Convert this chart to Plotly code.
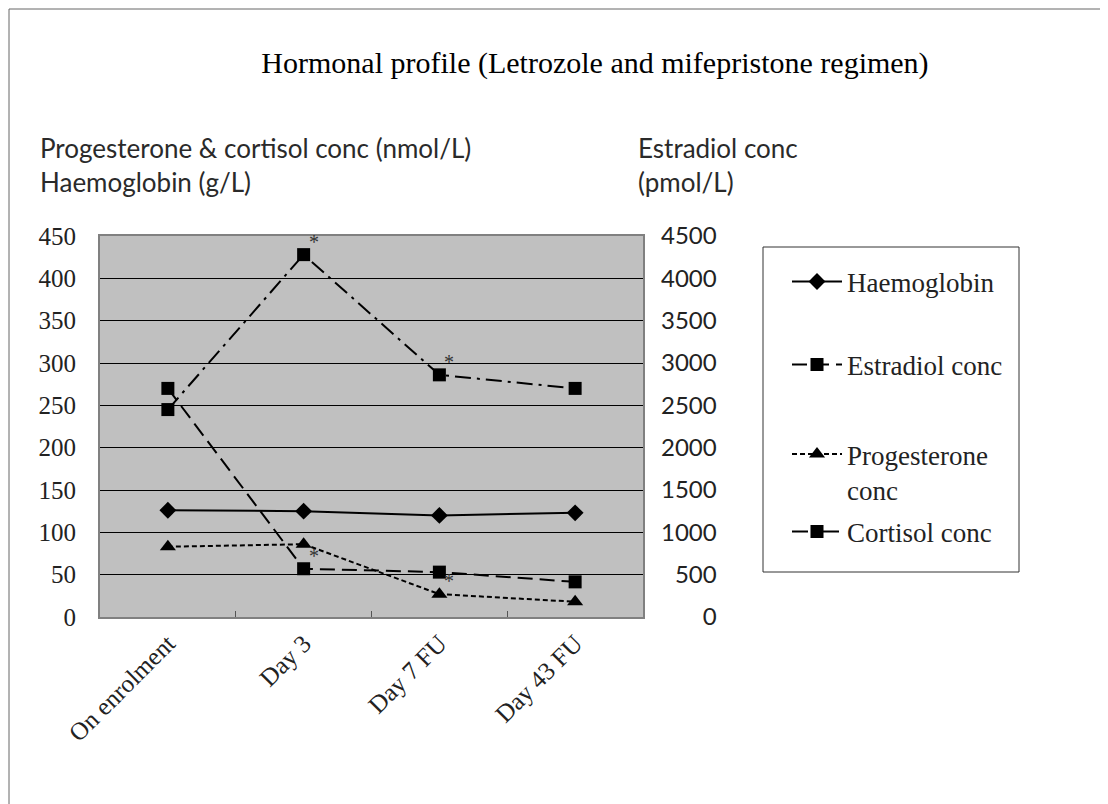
import plotly.graph_objects as go

# ---------------- data ----------------
categories = ["On enrolment", "Day 3", "Day 7 FU", "Day 43 FU"]
haemoglobin = [126, 125, 120, 123]          # g/L  (left axis)
estradiol = [2700, 570, 530, 415]           # pmol/L (right axis)
progesterone = [83, 86, 27, 18]             # nmol/L (left axis)
cortisol = [245, 428, 286, 270]             # nmol/L (left axis)
left_ticks = list(range(0, 451, 50))
right_ticks = list(range(0, 4501, 500))
# points flagged with an asterisk: (series, index)
asterisks = [("cortisol", 1), ("estradiol", 1), ("cortisol", 2), ("progesterone", 2)]

# ---------------- layout helpers ----------------
W, H = 1108, 804
OFF = 8  # page body margin
L, R, T, B = 100 - OFF, 643 - OFF, 236 - OFF, 617 - OFF


def px_x(px):
    return (px - OFF - L) / (R - L)


def px_y(py):
    return (B - (py - OFF)) / (B - T)


SERIF = "Liberation Serif"
SANS = "Lato"

fig = go.Figure()

fig.add_trace(go.Scatter(
    x=categories, y=haemoglobin, name="Haemoglobin", mode="lines+markers",
    line=dict(color="black", width=2),
    marker=dict(symbol="diamond", size=13, color="black"),
    legend="legend"))

fig.add_trace(go.Scatter(
    x=categories, y=estradiol, name="Estradiol conc", mode="lines+markers",
    yaxis="y2",
    line=dict(color="black", width=2, dash="15px,7px"),
    marker=dict(symbol="square", size=13, color="black"),
    legend="legend2"))

fig.add_trace(go.Scatter(
    x=categories, y=progesterone, name="Progesterone<br>conc", mode="lines+markers",
    line=dict(color="black", width=2, dash="5px,3px"),
    marker=dict(symbol="triangle-up", size=14, color="black"),
    legend="legend3"))

fig.add_trace(go.Scatter(
    x=categories, y=cortisol, name="Cortisol conc", mode="lines+markers",
    line=dict(color="black", width=2, dash="16px,6px,3px,6px"),
    marker=dict(symbol="square", size=13, color="black"),
    legend="legend4"))

series = {"haemoglobin": (haemoglobin, "y"), "estradiol": (estradiol, "y2"),
          "progesterone": (progesterone, "y"), "cortisol": (cortisol, "y")}
annotations = []
for name, i in asterisks:
    vals, yref = series[name]
    annotations.append(dict(
        x=categories[i], y=vals[i], xref="x", yref=yref, text="*",
        showarrow=False, xshift=10, yshift=13,
        font=dict(family=SERIF, size=20, color="#333")))

TITLE_FONT = dict(family=SANS, size=26, color="#2a2a2a")
# axis titles
annotations += [
    dict(x=px_x(38), y=px_y(148), xref="paper", yref="paper", xanchor="left",
         yanchor="middle", showarrow=False,
         text="Progesterone & cortisol conc (nmol/L)", font=TITLE_FONT),
    dict(x=px_x(38), y=px_y(182), xref="paper", yref="paper", xanchor="left",
         yanchor="middle", showarrow=False, text="Haemoglobin (g/L)", font=TITLE_FONT),
    dict(x=px_x(636), y=px_y(148), xref="paper", yref="paper", xanchor="left",
         yanchor="middle", showarrow=False, text="Estradiol conc", font=TITLE_FONT),
    dict(x=px_x(636), y=px_y(182), xref="paper", yref="paper", xanchor="left",
         yanchor="middle", showarrow=False, text="(pmol/L)", font=TITLE_FONT),
]

legend_style = dict(xanchor="left", bgcolor="rgba(0,0,0,0)", borderwidth=0,
                    font=dict(family=SERIF, size=27, color="#222"),
                    itemwidth=50, valign="top")

LEG_X = 787
fig.update_layout(
    width=W, height=H, showlegend=True,
    margin=dict(l=L, r=W - R, t=T, b=H - B, pad=0),
    paper_bgcolor="white", plot_bgcolor="#c0c0c0",
    title=dict(text="Hormonal profile (Letrozole and mifepristone regimen)",
               x=(595 - OFF) / W, xanchor="center", xref="container",
               y=1 - (62 - OFF) / H, yanchor="middle", yref="container",
               font=dict(family=SERIF, size=30, color="black")),
    xaxis=dict(type="category", range=[-0.5, 3.5], showgrid=False,
               showline=True, linecolor="#808080", linewidth=2, mirror=True,
               ticks="inside", ticklen=6, tickcolor="#555", tickson="boundaries",
               tickangle=-45, tickfont=dict(family=SERIF, size=25, color="#222")),
    yaxis=dict(range=[0, 450], tickvals=left_ticks, showgrid=True,
               gridcolor="black", gridwidth=1, zeroline=False,
               showline=True, linecolor="#808080", linewidth=2, mirror=True,
               ticks="", ticklabelstandoff=17,
               tickfont=dict(family=SERIF, size=25, color="#222")),
    yaxis2=dict(range=[0, 4500], overlaying="y", side="right", showgrid=False,
                zeroline=False, tickvals=right_ticks,
                ticktext=[str(v).rjust(4, "\u2007") for v in right_ticks],
                ticks="", ticklabelstandoff=17,
                tickfont=dict(family=SANS, size=24, color="#222")),
    legend=dict(x=px_x(LEG_X), y=px_y(282), yanchor="middle", **legend_style),
    legend2=dict(x=px_x(LEG_X), y=px_y(365), yanchor="middle", **legend_style),
    legend3=dict(x=px_x(LEG_X), y=px_y(430), yanchor="top", **legend_style),
    legend4=dict(x=px_x(LEG_X), y=px_y(532), yanchor="middle", **legend_style),
    annotations=annotations,
    shapes=[
        dict(type="rect", xref="paper", yref="paper",
             x0=px_x(763), x1=px_x(1019), y0=px_y(572), y1=px_y(247),
             line=dict(color="#333", width=1), fillcolor="rgba(0,0,0,0)"),
        dict(type="rect", xref="paper", yref="paper",
             x0=px_x(9), x1=px_x(1300), y0=px_y(1000), y1=px_y(9),
             line=dict(color="#666", width=1), fillcolor="rgba(0,0,0,0)"),
    ],
)

fig.write_html("out.html")
